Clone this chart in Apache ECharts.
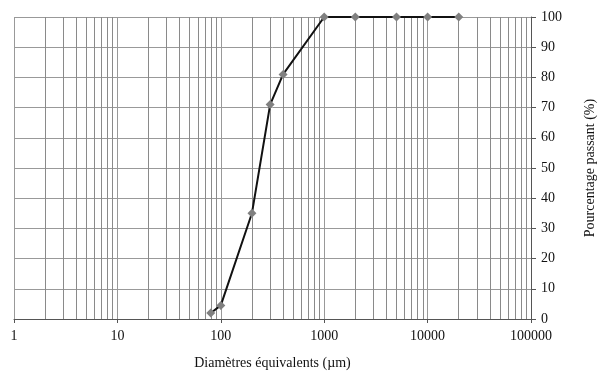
<!DOCTYPE html>
<html>
<head>
<meta charset="utf-8">
<script src="https://cdn.jsdelivr.net/npm/echarts@6/dist/echarts.min.js"></script>
<style>
  html, body { margin: 0; padding: 0; background: #fff; }
  #chart { width: 598px; height: 374px; }
</style>
</head>
<body>
<div id="chart"></div>
<script>
// diamètres (µm) et pourcentage passant
var diametres = [80, 100, 200, 300, 400, 1000, 2000, 5000, 10000, 20000];
var passant = [2, 4.5, 35, 71, 81, 100, 100, 100, 100, 100];
var decades = [1, 10, 100, 1000, 10000];

// lignes mineures 2..9 de chaque décade
var mineures = [];
decades.forEach(function (d) {
  for (var k = 2; k <= 9; k++) mineures.push({ xAxis: d * k });
});

var points = diametres.map(function (d, i) { return [d, passant[i]]; });

var chart = echarts.init(document.getElementById('chart'), null, { renderer: 'canvas' });

var serif = 'Liberation Serif';

chart.setOption({
  animation: false,
  grid: { left: 14, right: 67, top: 17, bottom: 55, outerBoundsMode: 'none', containLabel: false },
  xAxis: {
    type: 'log',
    logBase: 10,
    min: 1,
    max: 100000,
    name: 'Diamètres équivalents (µm)',
    nameLocation: 'middle',
    nameGap: 37,
    nameTextStyle: { fontFamily: serif, fontSize: 14, color: '#111' },
    axisLine: { lineStyle: { color: '#555', width: 1 } },
    axisTick: { show: true, length: 4, lineStyle: { color: '#555' } },
    axisLabel: {
      fontFamily: serif, fontSize: 14, color: '#111', margin: 10,
      formatter: function (v) { return String(Math.round(v)); }
    },
    splitLine: { show: true, lineStyle: { color: '#999', width: 1 } }
  },
  yAxis: {
    type: 'value',
    position: 'right',
    min: 0,
    max: 100,
    interval: 10,
    name: 'Pourcentage passant (%)',
    nameLocation: 'middle',
    nameRotate: 90,
    nameGap: 52,
    nameTextStyle: { fontFamily: serif, fontSize: 14, color: '#111' },
    axisLine: { show: true, lineStyle: { color: '#555', width: 1 } },
    axisTick: { show: true, length: 5, lineStyle: { color: '#555' } },
    axisLabel: { fontFamily: serif, fontSize: 14, color: '#111', margin: 10 },
    splitLine: { show: true, lineStyle: { color: '#999', width: 1 } }
  },
  series: [
    {
      type: 'line',
      data: points,
      symbol: 'diamond',
      symbolSize: 9,
      itemStyle: { color: '#808080' },
      lineStyle: { color: '#111', width: 2 },
      z: 5,
      markLine: {
        silent: true,
        symbol: ['none', 'none'],
        label: { show: false },
        lineStyle: { color: '#8a8a8a', width: 1, type: 'solid' },
        data: mineures,
        z: 1
      }
    }
  ]
});
</script>
</body>
</html>
